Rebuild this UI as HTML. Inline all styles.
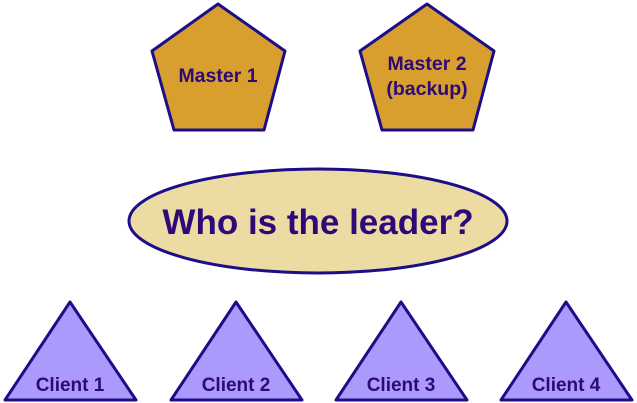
<!DOCTYPE html>
<html><head><style>body{margin:0;background:#fff}svg{display:block}text{font-family:"Liberation Sans",sans-serif;font-weight:bold;fill:#2d0a78;text-anchor:middle}</style></head>
<body>
<svg width="637" height="403" viewBox="0 0 637 403" xmlns="http://www.w3.org/2000/svg">
<g stroke="#1c0d88" stroke-width="3" stroke-linejoin="round">
<polygon points="218,4 285,51 264,130 174,130 152,51" fill="#d89f2e"/>
<polygon points="427,4 494,51 473,130 382,130 360,51" fill="#d89f2e"/>
<ellipse cx="318" cy="221" rx="189" ry="52" fill="#ecdca4"/>
<polygon points="70,302 136,400 5,400" fill="#ab99fb"/>
<polygon points="236,302 302,400 171,400" fill="#ab99fb"/>
<polygon points="401,302 467,400 336,400" fill="#ab99fb"/>
<polygon points="566,302 632,400 501,400" fill="#ab99fb"/>
</g>
<text x="218" y="82" font-size="19.5">Master 1</text>
<text x="427" y="70" font-size="19.5">Master 2</text>
<text x="427" y="95" font-size="19.5">(backup)</text>
<text x="318" y="234" font-size="35">Who is the leader?</text>
<text x="70" y="391" font-size="19">Client 1</text>
<text x="236" y="391" font-size="19">Client 2</text>
<text x="401" y="391" font-size="19">Client 3</text>
<text x="566" y="391" font-size="19">Client 4</text>
</svg>
</body></html>
